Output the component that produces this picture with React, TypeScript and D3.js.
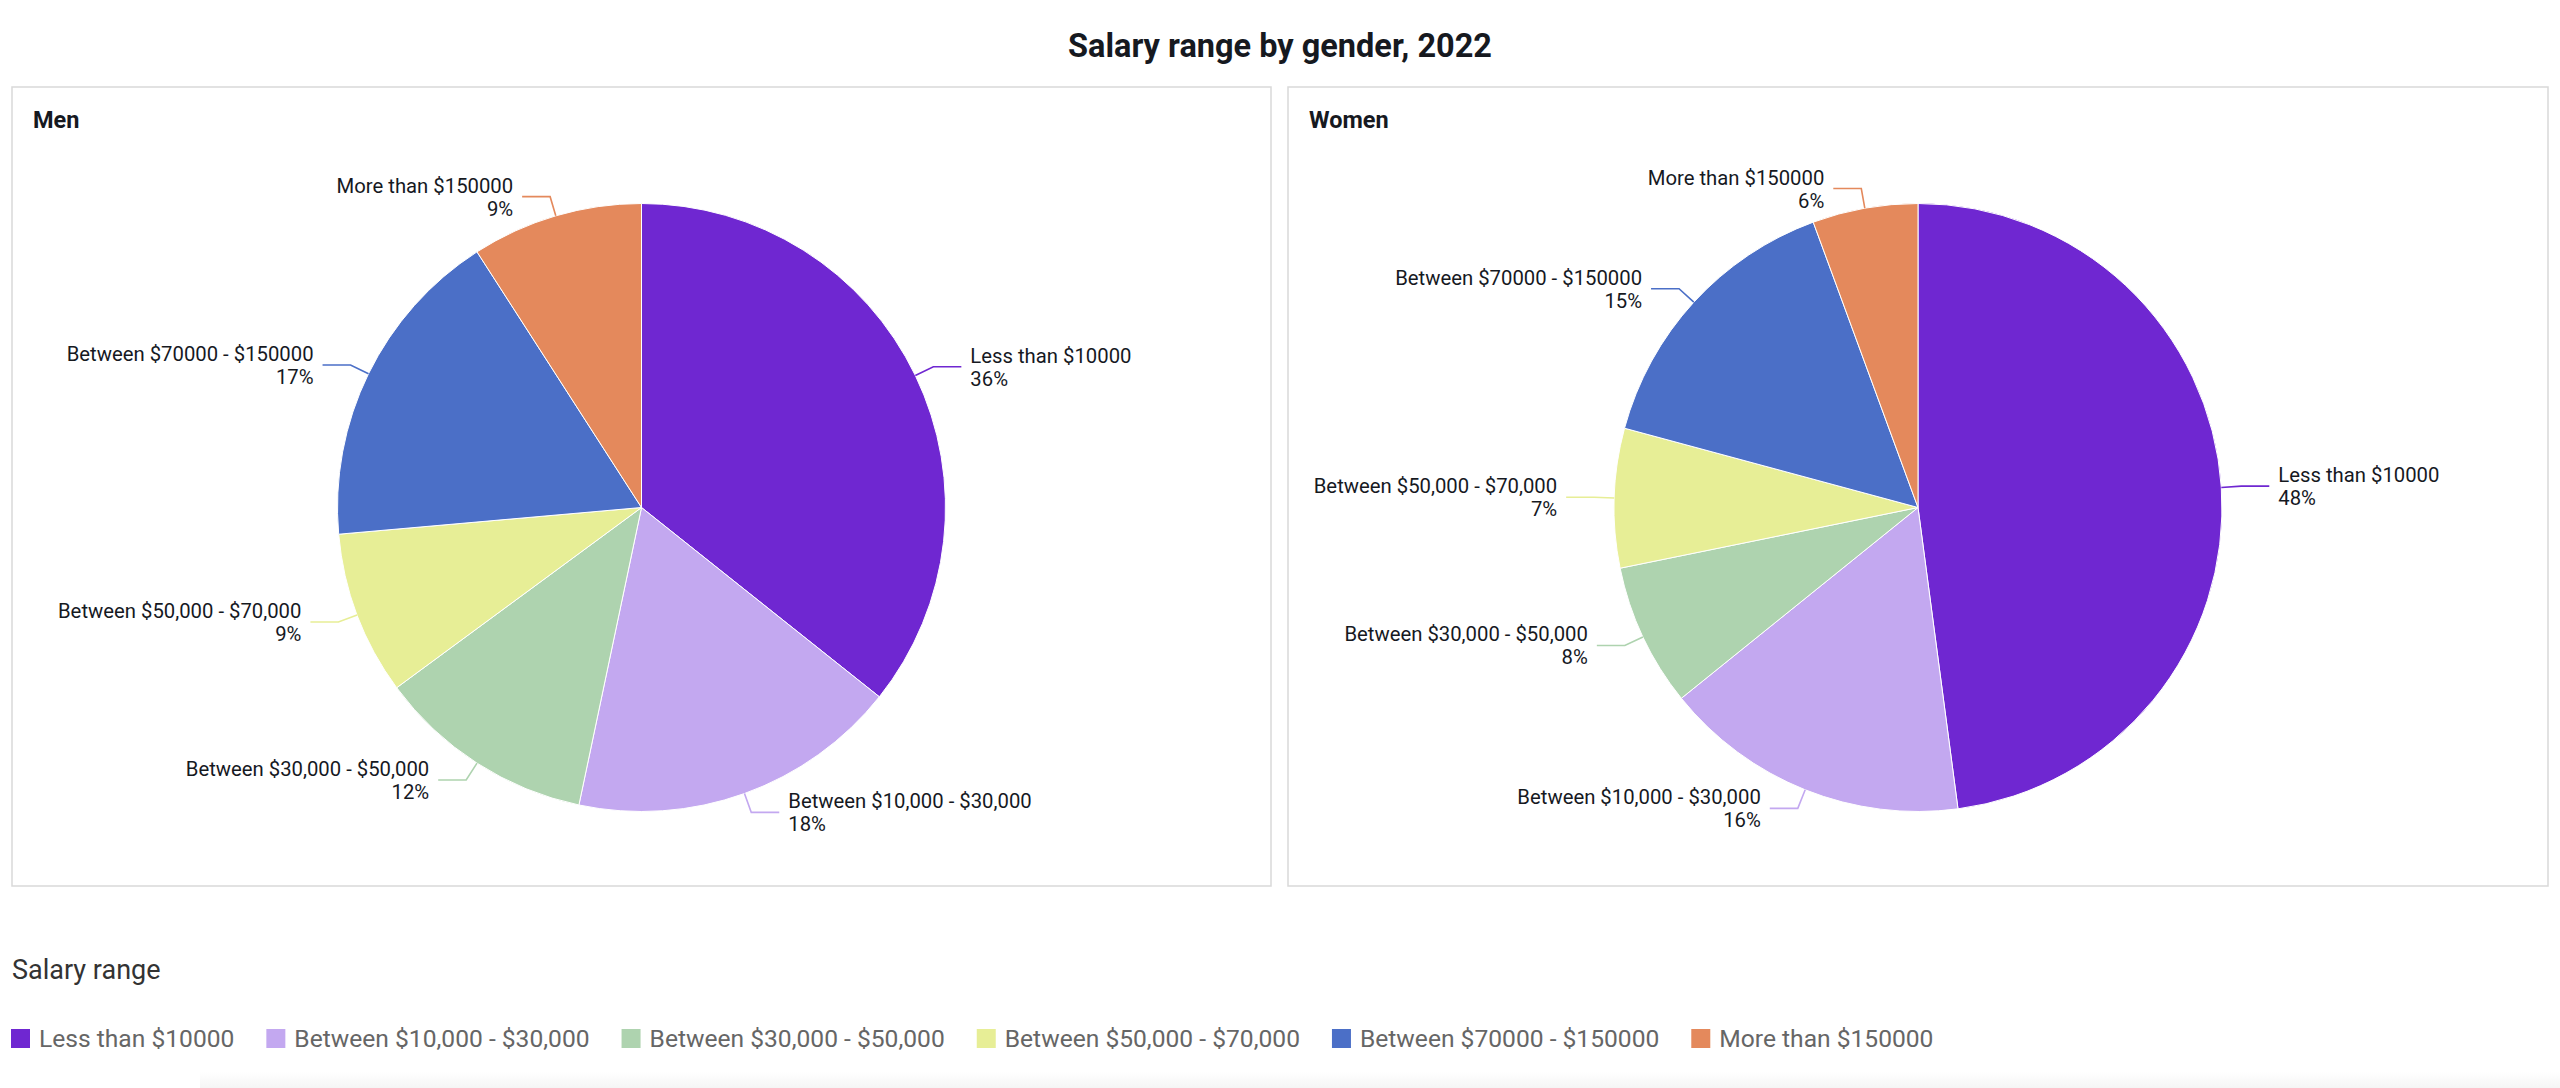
import * as d3 from "d3";
import { useMemo } from "react";

const WIDTH = 2560;
const HEIGHT = 1088;
const FONT = "Roboto, 'Liberation Sans', sans-serif";

const CATEGORIES = [
  "Less than $10000",
  "Between $10,000 - $30,000",
  "Between $30,000 - $50,000",
  "Between $50,000 - $70,000",
  "Between $70000 - $150000",
  "More than $150000",
];
const MEN_SHARE = [35.7, 17.6, 11.6, 8.7, 17.3, 9.1];
const WOMEN_SHARE = [47.9, 16.3, 7.6, 7.4, 15.2, 5.6];
const COLORS = ["#6f27d1", "#c3a8f0", "#aed3af", "#e7ee96", "#4b6fc7", "#e4895c"];

const PANELS = [
  { title: "Men", values: MEN_SHARE, x: 12, y: 87, w: 1259, h: 799 },
  { title: "Women", values: WOMEN_SHARE, x: 1288, y: 87, w: 1260, h: 799 },
];

const RADIUS = 304;
const LINE1 = 20;
const LINE2 = 28;
const LABEL_GAP = 9;
const LABEL_SIZE = 20.3;
const LEGEND_SIZE = 24.6;

const pctFmt = d3.format(".0%");

function measure(text: string, size: number) {
  const ctx = document.createElement("canvas").getContext("2d");
  if (!ctx) return text.length * size * 0.52;
  ctx.font = `${size}px ${FONT}`;
  return ctx.measureText(text).width;
}

function PiePanel({ title, values, x, y, w, h }: (typeof PANELS)[number]) {
  const total = d3.sum(values);
  const arcs = useMemo(
    () =>
      d3
        .pie<number>()
        .sort(null)
        .value((d) => d)(values),
    [values],
  );
  const arc = d3.arc<d3.PieArcDatum<number>>().innerRadius(0).outerRadius(RADIUS);
  const cx = w / 2;
  const cy = h / 2 + 21;

  return (
    <g transform={`translate(${x},${y})`}>
      <rect x={0} y={0} width={w} height={h} fill="#fff" stroke="#d9d9d9" strokeWidth={1.5} />
      <text x={21} y={41} fontSize={23.5} fontWeight={700} fill="#16191f">
        {title}
      </text>
      <g transform={`translate(${cx},${cy})`}>
        {arcs.map((a, i) => (
          <path key={i} d={arc(a) ?? ""} fill={COLORS[i]} stroke="#fff" strokeWidth={1} />
        ))}
        {arcs.map((a, i) => {
          const mid = (a.startAngle + a.endAngle) / 2;
          const sx = Math.sin(mid);
          const sy = -Math.cos(mid);
          const p0 = [sx * RADIUS, sy * RADIUS];
          const p1 = [sx * (RADIUS + LINE1), sy * (RADIUS + LINE1)];
          const right = sx >= 0;
          const p2 = [p1[0] + (right ? LINE2 : -LINE2), p1[1]];
          const tx = p2[0] + (right ? LABEL_GAP : -LABEL_GAP);
          return (
            <g key={i}>
              <polyline
                points={[p0, p1, p2].map((p) => p.join(",")).join(" ")}
                fill="none"
                stroke={COLORS[i]}
                strokeWidth={1.6}
              />
              <text
                x={tx}
                y={p1[1]}
                textAnchor={right ? "start" : "end"}
                fontSize={LABEL_SIZE}
                fill="#16191f"
              >
                <tspan x={tx} dy={-4}>
                  {CATEGORIES[i]}
                </tspan>
                <tspan x={tx} dy={23}>
                  {pctFmt(a.data / total)}
                </tspan>
              </text>
            </g>
          );
        })}
      </g>
    </g>
  );
}

function Legend() {
  const items = useMemo(() => {
    let cur = 11;
    return CATEGORIES.map((c, i) => {
      const item = { label: c, color: COLORS[i], x: cur };
      cur += 19 + 9 + measure(c, LEGEND_SIZE) + 32;
      return item;
    });
  }, []);
  return (
    <g>
      <text x={12} y={979} fontSize={27} fill="#333">
        Salary range
      </text>
      {items.map((d) => (
        <g key={d.label} transform={`translate(${d.x},1029)`}>
          <rect width={19} height={19} fill={d.color} />
          <text x={28} y={18} fontSize={LEGEND_SIZE} fill="#666">
            {d.label}
          </text>
        </g>
      ))}
    </g>
  );
}

export default function App() {
  return (
    <div style={{ position: "absolute", left: 0, top: 0 }}>
      <svg width={WIDTH} height={HEIGHT} viewBox={`0 0 ${WIDTH} ${HEIGHT}`} fontFamily={FONT}>
        <defs>
          <linearGradient id="fade" x1="0" y1="0" x2="0" y2="1">
            <stop offset="0" stopColor="#fff" />
            <stop offset="1" stopColor="#f5f5f5" />
          </linearGradient>
        </defs>
        <rect width={WIDTH} height={HEIGHT} fill="#fff" />
        <rect x={200} y={1072} width={2360} height={16} fill="url(#fade)" />
        <text x={WIDTH / 2} y={57} textAnchor="middle" fontSize={32.5} fontWeight={700} fill="#16191f">
          Salary range by gender, 2022
        </text>
        {PANELS.map((p) => (
          <PiePanel key={p.title} {...p} />
        ))}
        <Legend />
      </svg>
    </div>
  );
}
